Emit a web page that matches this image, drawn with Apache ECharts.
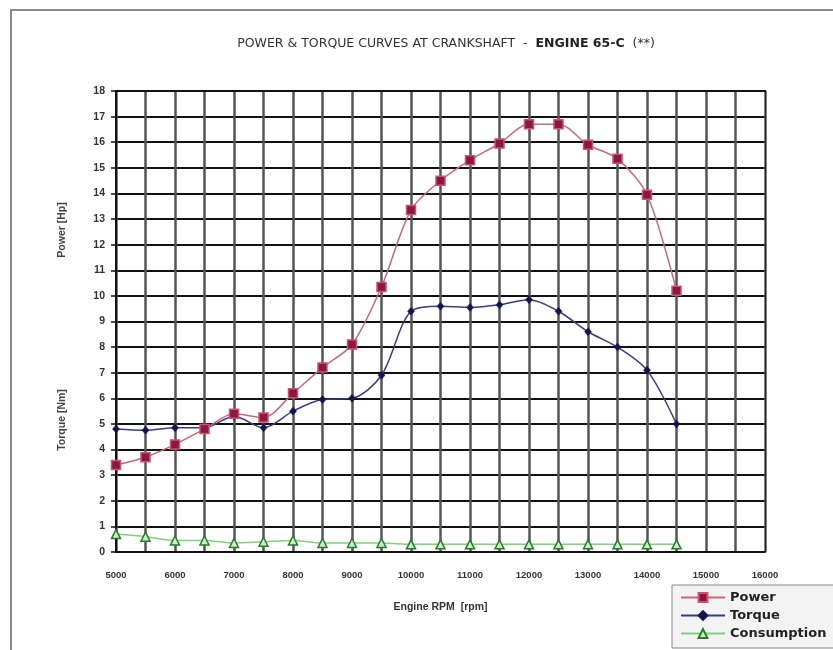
<!DOCTYPE html>
<html>
<head>
<meta charset="utf-8">
<script src="https://cdn.jsdelivr.net/npm/echarts@6/dist/echarts.min.js"></script>
<style>
html,body{margin:0;padding:0;background:#fff;}
#frame{position:absolute;left:10px;top:9px;width:840px;height:660px;border-left:2px solid #888;border-top:2px solid #888;}
#chart{position:absolute;left:0;top:0;width:833px;height:650px;}
</style>
</head>
<body>
<div id="frame"></div>
<div id="chart"></div>
<script>
const rpm = [5000,5500,6000,6500,7000,7500,8000,8500,9000,9500,10000,10500,11000,11500,12000,12500,13000,13500,14000,14500];
const power = [3.4,3.7,4.2,4.8,5.4,5.25,6.2,7.2,8.1,10.35,13.35,14.5,15.3,15.95,16.7,16.7,15.9,15.35,13.95,10.2];
const torque = [4.8,4.75,4.85,4.85,5.3,4.85,5.5,5.95,6.0,6.9,9.4,9.6,9.55,9.65,9.85,9.4,8.6,8.0,7.1,5.0];
const consumption = [0.7,0.6,0.45,0.45,0.35,0.4,0.45,0.35,0.35,0.35,0.3,0.3,0.3,0.3,0.3,0.3,0.3,0.3,0.3,0.3];
const seriesNames = ['Power','Torque','Consumption'];
const titleParts = ['POWER & TORQUE CURVES AT CRANKSHAFT  -  ','ENGINE 65-C','  (**)'];
const xAxisName = 'Engine RPM  [rpm]';
const yNames = ['Power [Hp]','Torque [Nm]'];

const chart = echarts.init(document.getElementById('chart'));
const pair = a => rpm.map((x,i)=>[x,a[i]]);
const font = 'Liberation Sans, Arial, sans-serif';
const wide = 'DejaVu Sans, sans-serif';
chart.setOption({
  animation:false,
  title:{
    text:'{n|'+titleParts[0]+'}{b|'+titleParts[1]+'}{n|'+titleParts[2]+'}',
    left:441, top:32, textAlign:'center',
    textStyle:{fontFamily:wide,fontWeight:'normal',rich:{
      n:{fontFamily:wide,fontSize:12.5,fontWeight:'normal',color:'#333'},
      b:{fontFamily:wide,fontSize:12.5,fontWeight:'bold',color:'#222'}
    }}
  },
  grid:{left:116,top:91,width:649,height:461,show:false},
  legend:{
    orient:'vertical', left:672, top:585, width:200, height:100,
    padding:[6,40,8,8], itemGap:5, itemWidth:44, itemHeight:11,
    backgroundColor:'#f3f3f3', borderColor:'#888', borderWidth:1,
    textStyle:{fontFamily:wide,fontSize:13,fontWeight:'bold',color:'#222'},
    data:seriesNames
  },
  xAxis:{
    type:'value', min:5000, max:16000, interval:1000,
    axisLine:{show:true,onZero:false,lineStyle:{color:'#111',width:2}},
    axisTick:{show:false},
    axisLabel:{fontFamily:font,fontSize:9.5,fontWeight:'bold',color:'#333',margin:18,formatter:v=>String(v)},
    splitLine:{show:true,lineStyle:{color:'#555',width:2.5}},
    minorTick:{show:false,splitNumber:2},
    minorSplitLine:{show:true,lineStyle:{color:'#555',width:2.5}},
    name:xAxisName, nameLocation:'middle', nameGap:50,
    nameTextStyle:{fontFamily:font,fontSize:10.5,fontWeight:'bold',color:'#333'}
  },
  yAxis:{
    type:'value', min:0, max:18, interval:1,
    axisLine:{show:true,lineStyle:{color:'#111',width:2}},
    axisTick:{show:true,length:5,lineStyle:{color:'#111',width:1.5}},
    axisLabel:{fontFamily:font,fontSize:10.5,fontWeight:'bold',color:'#333',margin:11},
    splitLine:{show:true,lineStyle:{color:'#111',width:2}}
  },
  graphic:[
    {type:'rect',shape:{x:765,y:91,width:1,height:461},style:{fill:'#222'},z:10},
    {type:'rect',shape:{x:116,y:90,width:650,height:2},style:{fill:'#111'},z:10},
    {type:'text',x:62,y:230,rotation:Math.PI/2,style:{text:yNames[0],fontFamily:font,fontSize:10.5,fontWeight:'bold',fill:'#444',align:'center',verticalAlign:'middle'}},
    {type:'text',x:62,y:420,rotation:Math.PI/2,style:{text:yNames[1],fontFamily:font,fontSize:10.5,fontWeight:'bold',fill:'#444',align:'center',verticalAlign:'middle'}}
  ],
  series:[
    {name:seriesNames[0],type:'line',data:pair(power),smooth:0.3,
      lineStyle:{color:'#cc6677',width:1.5},
      symbol:'rect',symbolSize:9,
      itemStyle:{color:'#8a1840',borderColor:'#d05070',borderWidth:1.5},z:5},
    {name:seriesNames[1],type:'line',data:pair(torque),smooth:0.3,
      lineStyle:{color:'#3a3a88',width:1.5},
      symbol:'diamond',symbolSize:[7,8],
      itemStyle:{color:'#141450',borderColor:'#141450',borderWidth:0.5},z:4},
    {name:seriesNames[2],type:'line',data:pair(consumption),smooth:0.3,
      lineStyle:{color:'#80d080',width:1.5},
      symbol:'triangle',symbolSize:9,
      itemStyle:{color:'#c8f0c8',borderColor:'#2a7a2a',borderWidth:1.5},z:3}
  ]
});
</script>
</body>
</html>
